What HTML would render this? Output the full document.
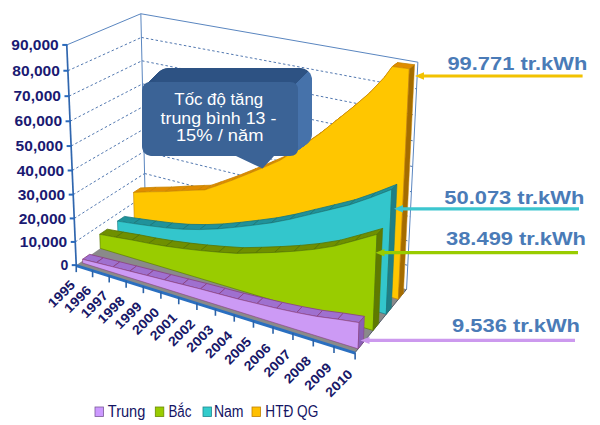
<!DOCTYPE html>
<html><head><meta charset="utf-8"><style>
html,body{margin:0;padding:0;background:#fff;}
body{width:600px;height:425px;overflow:hidden;}
svg{display:block;}
</style></head><body>
<svg width="600" height="425" viewBox="0 0 600 425">
<rect width="600" height="425" fill="#ffffff"/>
<line x1="75.25" y1="241.93" x2="145.08" y2="195.24" stroke="#5278b0" stroke-width="1" stroke-dasharray="2.5,2.3"/>
<line x1="145.08" y1="195.24" x2="407.75" y2="265.36" stroke="#5278b0" stroke-width="1" stroke-dasharray="2.5,2.3"/>
<line x1="74.24" y1="218.43" x2="144.57" y2="173.50" stroke="#5278b0" stroke-width="1" stroke-dasharray="2.5,2.3"/>
<line x1="144.57" y1="173.50" x2="408.96" y2="241.16" stroke="#5278b0" stroke-width="1" stroke-dasharray="2.5,2.3"/>
<line x1="73.22" y1="194.63" x2="144.06" y2="151.50" stroke="#5278b0" stroke-width="1" stroke-dasharray="2.5,2.3"/>
<line x1="144.06" y1="151.50" x2="410.18" y2="216.64" stroke="#5278b0" stroke-width="1" stroke-dasharray="2.5,2.3"/>
<line x1="72.18" y1="170.50" x2="143.54" y2="129.24" stroke="#5278b0" stroke-width="1" stroke-dasharray="2.5,2.3"/>
<line x1="143.54" y1="129.24" x2="411.42" y2="191.78" stroke="#5278b0" stroke-width="1" stroke-dasharray="2.5,2.3"/>
<line x1="71.13" y1="146.06" x2="143.01" y2="106.71" stroke="#5278b0" stroke-width="1" stroke-dasharray="2.5,2.3"/>
<line x1="143.01" y1="106.71" x2="412.67" y2="166.58" stroke="#5278b0" stroke-width="1" stroke-dasharray="2.5,2.3"/>
<line x1="70.06" y1="121.28" x2="142.48" y2="83.89" stroke="#5278b0" stroke-width="1" stroke-dasharray="2.5,2.3"/>
<line x1="142.48" y1="83.89" x2="413.94" y2="141.03" stroke="#5278b0" stroke-width="1" stroke-dasharray="2.5,2.3"/>
<line x1="68.98" y1="96.18" x2="141.94" y2="60.80" stroke="#5278b0" stroke-width="1" stroke-dasharray="2.5,2.3"/>
<line x1="141.94" y1="60.80" x2="415.23" y2="115.11" stroke="#5278b0" stroke-width="1" stroke-dasharray="2.5,2.3"/>
<line x1="67.88" y1="70.73" x2="141.40" y2="37.43" stroke="#5278b0" stroke-width="1" stroke-dasharray="2.5,2.3"/>
<line x1="141.40" y1="37.43" x2="416.54" y2="88.84" stroke="#5278b0" stroke-width="1" stroke-dasharray="2.5,2.3"/>
<line x1="66.77" y1="44.93" x2="140.84" y2="13.76" stroke="#5a86c0" stroke-width="1"/>
<line x1="140.84" y1="13.76" x2="417.87" y2="62.18" stroke="#5a86c0" stroke-width="1"/>
<line x1="145.58" y1="216.72" x2="140.84" y2="13.76" stroke="#5a86c0" stroke-width="1"/>
<line x1="406.57" y1="289.23" x2="417.87" y2="62.18" stroke="#5a86c0" stroke-width="1"/>
<polygon points="76.25,265.13 355.12,352.57 406.57,289.23 145.58,216.72" fill="#8a8a8a"/>
<line x1="355.12" y1="352.57" x2="406.57" y2="289.23" stroke="#505a68" stroke-width="1"/>
<polygon points="133.53,192.46 149.18,191.83 156.03,187.25 140.46,187.92" fill="#e08c00" stroke="#c88400" stroke-width="0.8"/>
<polygon points="149.18,191.83 165.14,191.61 171.90,187.00 156.03,187.25" fill="#e08c00" stroke="#c88400" stroke-width="0.8"/>
<polygon points="165.14,191.61 181.39,190.73 188.06,186.08 171.90,187.00" fill="#e08c00" stroke="#c88400" stroke-width="0.8"/>
<polygon points="181.39,190.73 197.96,190.11 204.54,185.43 188.06,186.08" fill="#e08c00" stroke="#c88400" stroke-width="0.8"/>
<polygon points="197.96,190.11 204.68,189.96 211.21,185.26 204.54,185.43" fill="#e08c00" stroke="#c88400" stroke-width="0.8"/>
<polygon points="204.68,189.96 214.84,186.47 221.32,181.77 211.21,185.26" fill="#e08c00" stroke="#c88400" stroke-width="0.8"/>
<polygon points="214.84,186.47 232.08,180.30 238.47,175.60 221.32,181.77" fill="#e08c00" stroke="#c88400" stroke-width="0.8"/>
<polygon points="232.08,180.30 249.73,173.24 256.01,168.56 238.47,175.60" fill="#e08c00" stroke="#c88400" stroke-width="0.8"/>
<polygon points="249.73,173.24 267.79,165.75 273.97,161.09 256.01,168.56" fill="#e08c00" stroke="#c88400" stroke-width="0.8"/>
<polygon points="267.79,165.75 279.59,160.56 285.70,155.92 273.97,161.09" fill="#e08c00" stroke="#c88400" stroke-width="0.8"/>
<polygon points="279.59,160.56 295.78,150.56 301.80,145.97 285.70,155.92" fill="#e08c00" stroke="#c88400" stroke-width="0.8"/>
<polygon points="295.78,150.56 319.45,134.11 325.31,129.61 301.80,145.97" fill="#e08c00" stroke="#c88400" stroke-width="0.8"/>
<polygon points="319.45,134.11 335.05,121.47 340.82,117.06 325.31,129.61" fill="#e08c00" stroke="#c88400" stroke-width="0.8"/>
<polygon points="335.05,121.47 353.29,106.88 358.94,102.57 340.82,117.06" fill="#e08c00" stroke="#c88400" stroke-width="0.8"/>
<polygon points="353.29,106.88 369.28,93.22 374.82,89.00 358.94,102.57" fill="#e08c00" stroke="#c88400" stroke-width="0.8"/>
<polygon points="369.28,93.22 384.25,77.43 389.69,73.33 374.82,89.00" fill="#e08c00" stroke="#c88400" stroke-width="0.8"/>
<polygon points="384.25,77.43 392.30,66.59 397.69,62.58 389.69,73.33" fill="#e08c00" stroke="#c88400" stroke-width="0.8"/>
<polygon points="392.30,66.59 409.32,68.80 414.56,64.74 397.69,62.58" fill="#e08c00" stroke="#c88400" stroke-width="0.8"/>
<polygon points="133.53,192.46 149.18,191.83 165.14,191.61 181.39,190.73 197.96,190.11 204.68,189.96 214.84,186.47 232.08,180.30 249.73,173.24 267.79,165.75 279.59,160.56 295.78,150.56 319.45,134.11 335.05,121.47 353.29,106.88 369.28,93.22 384.25,77.43 392.30,66.59 409.32,68.80 398.35,299.35 134.38,224.54" fill="#ffc600" stroke="#c88400" stroke-width="0.6"/>
<polygon points="398.35,299.35 409.32,68.80 414.56,64.74 403.39,293.14" fill="#a46c00" stroke="#c88400" stroke-width="0.5"/>
<polygon points="117.50,221.11 133.34,223.55 140.19,218.78 124.43,216.41" fill="#20929a" stroke="#16767e" stroke-width="0.8"/>
<polygon points="133.34,223.55 149.46,225.80 156.22,220.97 140.19,218.78" fill="#20929a" stroke="#16767e" stroke-width="0.8"/>
<polygon points="149.46,225.80 165.87,227.86 172.53,222.98 156.22,220.97" fill="#20929a" stroke="#16767e" stroke-width="0.8"/>
<polygon points="165.87,227.86 182.56,229.28 189.13,224.33 172.53,222.98" fill="#20929a" stroke="#16767e" stroke-width="0.8"/>
<polygon points="182.56,229.28 199.56,229.58 206.04,224.58 189.13,224.33" fill="#20929a" stroke="#16767e" stroke-width="0.8"/>
<polygon points="199.56,229.58 216.90,228.95 223.27,223.91 206.04,224.58" fill="#20929a" stroke="#16767e" stroke-width="0.8"/>
<polygon points="216.90,228.95 234.59,227.37 240.86,222.29 223.27,223.91" fill="#20929a" stroke="#16767e" stroke-width="0.8"/>
<polygon points="234.59,227.37 252.66,225.29 258.82,220.18 240.86,222.29" fill="#20929a" stroke="#16767e" stroke-width="0.8"/>
<polygon points="252.66,225.29 271.12,222.90 277.16,217.76 258.82,220.18" fill="#20929a" stroke="#16767e" stroke-width="0.8"/>
<polygon points="271.12,222.90 290.01,219.28 295.93,214.12 277.16,217.76" fill="#20929a" stroke="#16767e" stroke-width="0.8"/>
<polygon points="290.01,219.28 309.36,214.61 315.16,209.43 295.93,214.12" fill="#20929a" stroke="#16767e" stroke-width="0.8"/>
<polygon points="309.36,214.61 329.17,209.90 334.83,204.71 315.16,209.43" fill="#20929a" stroke="#16767e" stroke-width="0.8"/>
<polygon points="329.17,209.90 349.45,204.93 354.97,199.73 334.83,204.71" fill="#20929a" stroke="#16767e" stroke-width="0.8"/>
<polygon points="349.45,204.93 370.32,197.79 375.69,192.59 354.97,199.73" fill="#20929a" stroke="#16767e" stroke-width="0.8"/>
<polygon points="370.32,197.79 391.77,189.43 396.98,184.26 375.69,192.59" fill="#20929a" stroke="#16767e" stroke-width="0.8"/>
<polygon points="117.50,221.11 133.34,223.55 149.46,225.80 165.87,227.86 182.56,229.28 199.56,229.58 216.90,228.95 234.59,227.37 252.66,225.29 271.12,222.90 290.01,219.28 309.36,214.61 329.17,209.90 349.45,204.93 370.32,197.79 391.77,189.43 386.23,314.27 117.96,236.00" fill="#33c6cc" stroke="#16767e" stroke-width="0.6"/>
<polygon points="386.23,314.27 391.77,189.43 396.98,184.26 391.33,307.99" fill="#1f7f86" stroke="#16767e" stroke-width="0.5"/>
<polygon points="99.73,234.30 115.79,237.26 123.23,232.06 107.26,229.18" fill="#6f8f00" stroke="#587400" stroke-width="0.8"/>
<polygon points="115.79,237.26 132.13,240.05 139.48,234.79 123.23,232.06" fill="#6f8f00" stroke="#587400" stroke-width="0.8"/>
<polygon points="132.13,240.05 148.78,243.37 156.03,238.02 139.48,234.79" fill="#6f8f00" stroke="#587400" stroke-width="0.8"/>
<polygon points="148.78,243.37 165.73,246.20 172.87,240.78 156.03,238.02" fill="#6f8f00" stroke="#587400" stroke-width="0.8"/>
<polygon points="165.73,246.20 182.98,248.60 190.02,243.10 172.87,240.78" fill="#6f8f00" stroke="#587400" stroke-width="0.8"/>
<polygon points="182.98,248.60 200.56,250.58 207.49,245.01 190.02,243.10" fill="#6f8f00" stroke="#587400" stroke-width="0.8"/>
<polygon points="200.56,250.58 218.48,252.15 225.29,246.51 207.49,245.01" fill="#6f8f00" stroke="#587400" stroke-width="0.8"/>
<polygon points="218.48,252.15 236.75,253.39 243.45,247.68 225.29,246.51" fill="#6f8f00" stroke="#587400" stroke-width="0.8"/>
<polygon points="236.75,253.39 255.42,253.03 261.99,247.26 243.45,247.68" fill="#6f8f00" stroke="#587400" stroke-width="0.8"/>
<polygon points="255.42,253.03 274.49,252.41 280.93,246.59 261.99,247.26" fill="#6f8f00" stroke="#587400" stroke-width="0.8"/>
<polygon points="274.49,252.41 293.98,251.29 300.28,245.41 280.93,246.59" fill="#6f8f00" stroke="#587400" stroke-width="0.8"/>
<polygon points="293.98,251.29 313.93,249.37 320.09,243.45 300.28,245.41" fill="#6f8f00" stroke="#587400" stroke-width="0.8"/>
<polygon points="313.93,249.37 334.38,246.12 340.39,240.17 320.09,243.45" fill="#6f8f00" stroke="#587400" stroke-width="0.8"/>
<polygon points="334.38,246.12 355.41,240.45 361.26,234.49 340.39,240.17" fill="#6f8f00" stroke="#587400" stroke-width="0.8"/>
<polygon points="355.41,240.45 376.99,234.37 382.67,228.40 361.26,234.49" fill="#6f8f00" stroke="#587400" stroke-width="0.8"/>
<polygon points="99.73,234.30 115.79,237.26 132.13,240.05 148.78,243.37 165.73,246.20 182.98,248.60 200.56,250.58 218.48,252.15 236.75,253.39 255.42,253.03 274.49,252.41 293.98,251.29 313.93,249.37 334.38,246.12 355.41,240.45 376.99,234.37 373.07,330.47 100.24,248.38" fill="#99cc00" stroke="#587400" stroke-width="0.6"/>
<polygon points="373.07,330.47 376.99,234.37 382.67,228.40 378.65,323.60" fill="#5f7a00" stroke="#587400" stroke-width="0.5"/>
<polygon points="82.52,259.29 96.37,262.66 103.37,257.68 89.59,254.37" fill="#9f70cf" stroke="#8a3f7f" stroke-width="0.8"/>
<polygon points="96.37,262.66 112.94,266.86 119.85,261.79 103.37,257.68" fill="#9f70cf" stroke="#8a3f7f" stroke-width="0.8"/>
<polygon points="112.94,266.86 129.81,271.13 136.63,265.98 119.85,261.79" fill="#9f70cf" stroke="#8a3f7f" stroke-width="0.8"/>
<polygon points="129.81,271.13 146.99,275.48 153.71,270.24 136.63,265.98" fill="#9f70cf" stroke="#8a3f7f" stroke-width="0.8"/>
<polygon points="146.99,275.48 164.48,279.91 171.10,274.58 153.71,270.24" fill="#9f70cf" stroke="#8a3f7f" stroke-width="0.8"/>
<polygon points="164.48,279.91 182.29,284.42 188.81,279.00 171.10,274.58" fill="#9f70cf" stroke="#8a3f7f" stroke-width="0.8"/>
<polygon points="182.29,284.42 200.44,289.01 206.85,283.50 188.81,279.00" fill="#9f70cf" stroke="#8a3f7f" stroke-width="0.8"/>
<polygon points="200.44,289.01 218.93,293.94 225.23,288.33 206.85,283.50" fill="#9f70cf" stroke="#8a3f7f" stroke-width="0.8"/>
<polygon points="218.93,293.94 237.78,298.96 243.95,293.25 225.23,288.33" fill="#9f70cf" stroke="#8a3f7f" stroke-width="0.8"/>
<polygon points="237.78,298.96 256.98,303.58 263.03,297.77 243.95,293.25" fill="#9f70cf" stroke="#8a3f7f" stroke-width="0.8"/>
<polygon points="256.98,303.58 276.57,308.29 282.48,302.37 263.03,297.77" fill="#9f70cf" stroke="#8a3f7f" stroke-width="0.8"/>
<polygon points="276.57,308.29 296.55,312.58 302.32,306.57 282.48,302.37" fill="#9f70cf" stroke="#8a3f7f" stroke-width="0.8"/>
<polygon points="296.55,312.58 316.94,316.45 322.58,310.34 302.32,306.57" fill="#9f70cf" stroke="#8a3f7f" stroke-width="0.8"/>
<polygon points="316.94,316.45 337.80,319.24 343.29,313.04 322.58,310.34" fill="#9f70cf" stroke="#8a3f7f" stroke-width="0.8"/>
<polygon points="337.80,319.24 359.09,322.62 364.42,316.31 343.29,313.04" fill="#9f70cf" stroke="#8a3f7f" stroke-width="0.8"/>
<polygon points="82.52,259.29 96.37,262.66 112.94,266.86 129.81,271.13 146.99,275.48 164.48,279.91 182.29,284.42 200.44,289.01 218.93,293.94 237.78,298.96 256.98,303.58 276.57,308.29 296.55,312.58 316.94,316.45 337.80,319.24 359.09,322.62 358.13,348.87 82.68,263.09" fill="#cc9af5" stroke="#8a3f7f" stroke-width="0.6"/>
<polygon points="358.13,348.87 359.09,322.62 364.42,316.31 363.42,342.35" fill="#8a5fb5" stroke="#8a3f7f" stroke-width="0.5"/>
<line x1="76.25" y1="265.13" x2="66.77" y2="44.93" stroke="#3066ae" stroke-width="1.7"/>
<line x1="71.75" y1="265.13" x2="76.75" y2="265.13" stroke="#2a6abc" stroke-width="2"/>
<text x="68.25" y="270.33" text-anchor="end" font-family="Liberation Sans" font-weight="bold" font-size="14.5" fill="#1a1a72" textLength="7.8" lengthAdjust="spacingAndGlyphs">0</text>
<line x1="70.75" y1="241.93" x2="75.75" y2="241.93" stroke="#2a6abc" stroke-width="2"/>
<text x="67.25" y="247.13" text-anchor="end" font-family="Liberation Sans" font-weight="bold" font-size="14.5" fill="#1a1a72" textLength="47.5" lengthAdjust="spacingAndGlyphs">10,000</text>
<line x1="69.74" y1="218.43" x2="74.74" y2="218.43" stroke="#2a6abc" stroke-width="2"/>
<text x="66.24" y="223.63" text-anchor="end" font-family="Liberation Sans" font-weight="bold" font-size="14.5" fill="#1a1a72" textLength="47.5" lengthAdjust="spacingAndGlyphs">20,000</text>
<line x1="68.72" y1="194.63" x2="73.72" y2="194.63" stroke="#2a6abc" stroke-width="2"/>
<text x="65.22" y="199.83" text-anchor="end" font-family="Liberation Sans" font-weight="bold" font-size="14.5" fill="#1a1a72" textLength="47.5" lengthAdjust="spacingAndGlyphs">30,000</text>
<line x1="67.68" y1="170.50" x2="72.68" y2="170.50" stroke="#2a6abc" stroke-width="2"/>
<text x="64.18" y="175.70" text-anchor="end" font-family="Liberation Sans" font-weight="bold" font-size="14.5" fill="#1a1a72" textLength="47.5" lengthAdjust="spacingAndGlyphs">40,000</text>
<line x1="66.63" y1="146.06" x2="71.63" y2="146.06" stroke="#2a6abc" stroke-width="2"/>
<text x="63.13" y="151.26" text-anchor="end" font-family="Liberation Sans" font-weight="bold" font-size="14.5" fill="#1a1a72" textLength="47.5" lengthAdjust="spacingAndGlyphs">50,000</text>
<line x1="65.56" y1="121.28" x2="70.56" y2="121.28" stroke="#2a6abc" stroke-width="2"/>
<text x="62.06" y="126.48" text-anchor="end" font-family="Liberation Sans" font-weight="bold" font-size="14.5" fill="#1a1a72" textLength="47.5" lengthAdjust="spacingAndGlyphs">60,000</text>
<line x1="64.48" y1="96.18" x2="69.48" y2="96.18" stroke="#2a6abc" stroke-width="2"/>
<text x="60.98" y="101.38" text-anchor="end" font-family="Liberation Sans" font-weight="bold" font-size="14.5" fill="#1a1a72" textLength="47.5" lengthAdjust="spacingAndGlyphs">70,000</text>
<line x1="63.38" y1="70.73" x2="68.38" y2="70.73" stroke="#2a6abc" stroke-width="2"/>
<text x="59.88" y="75.93" text-anchor="end" font-family="Liberation Sans" font-weight="bold" font-size="14.5" fill="#1a1a72" textLength="47.5" lengthAdjust="spacingAndGlyphs">80,000</text>
<line x1="62.27" y1="44.93" x2="67.27" y2="44.93" stroke="#2a6abc" stroke-width="2"/>
<text x="58.77" y="50.13" text-anchor="end" font-family="Liberation Sans" font-weight="bold" font-size="14.5" fill="#1a1a72" textLength="47.5" lengthAdjust="spacingAndGlyphs">90,000</text>
<line x1="76.25" y1="265.63" x2="355.12" y2="353.07" stroke="#2a6fc0" stroke-width="3"/>
<line x1="76.25" y1="265.13" x2="76.25" y2="272.13" stroke="#2a62a8" stroke-width="1.6"/>
<text x="61.45" y="298.53" text-anchor="middle" font-family="Liberation Sans" font-weight="bold" font-size="13.2" fill="#181868" textLength="32" lengthAdjust="spacingAndGlyphs" transform="rotate(-45 61.45 293.93)">1995</text>
<line x1="92.60" y1="270.25" x2="92.60" y2="277.25" stroke="#2a62a8" stroke-width="1.6"/>
<text x="77.70" y="303.76" text-anchor="middle" font-family="Liberation Sans" font-weight="bold" font-size="13.2" fill="#181868" textLength="32" lengthAdjust="spacingAndGlyphs" transform="rotate(-45 77.70 299.16)">1996</text>
<line x1="109.23" y1="275.46" x2="109.23" y2="282.46" stroke="#2a62a8" stroke-width="1.6"/>
<text x="94.24" y="309.09" text-anchor="middle" font-family="Liberation Sans" font-weight="bold" font-size="13.2" fill="#181868" textLength="32" lengthAdjust="spacingAndGlyphs" transform="rotate(-45 94.24 304.49)">1997</text>
<line x1="126.15" y1="280.77" x2="126.15" y2="287.77" stroke="#2a62a8" stroke-width="1.6"/>
<text x="111.07" y="314.51" text-anchor="middle" font-family="Liberation Sans" font-weight="bold" font-size="13.2" fill="#181868" textLength="32" lengthAdjust="spacingAndGlyphs" transform="rotate(-45 111.07 309.91)">1998</text>
<line x1="143.37" y1="286.17" x2="143.37" y2="293.17" stroke="#2a62a8" stroke-width="1.6"/>
<text x="128.19" y="320.02" text-anchor="middle" font-family="Liberation Sans" font-weight="bold" font-size="13.2" fill="#181868" textLength="32" lengthAdjust="spacingAndGlyphs" transform="rotate(-45 128.19 315.42)">1999</text>
<line x1="160.90" y1="291.67" x2="160.90" y2="298.67" stroke="#2a62a8" stroke-width="1.6"/>
<text x="145.63" y="325.63" text-anchor="middle" font-family="Liberation Sans" font-weight="bold" font-size="13.2" fill="#181868" textLength="32" lengthAdjust="spacingAndGlyphs" transform="rotate(-45 145.63 321.03)">2000</text>
<line x1="178.74" y1="297.26" x2="178.74" y2="304.26" stroke="#2a62a8" stroke-width="1.6"/>
<text x="163.38" y="331.34" text-anchor="middle" font-family="Liberation Sans" font-weight="bold" font-size="13.2" fill="#181868" textLength="32" lengthAdjust="spacingAndGlyphs" transform="rotate(-45 163.38 326.74)">2001</text>
<line x1="196.91" y1="302.96" x2="196.91" y2="309.96" stroke="#2a62a8" stroke-width="1.6"/>
<text x="181.46" y="337.15" text-anchor="middle" font-family="Liberation Sans" font-weight="bold" font-size="13.2" fill="#181868" textLength="32" lengthAdjust="spacingAndGlyphs" transform="rotate(-45 181.46 332.55)">2002</text>
<line x1="215.42" y1="308.76" x2="215.42" y2="315.76" stroke="#2a62a8" stroke-width="1.6"/>
<text x="199.87" y="343.07" text-anchor="middle" font-family="Liberation Sans" font-weight="bold" font-size="13.2" fill="#181868" textLength="32" lengthAdjust="spacingAndGlyphs" transform="rotate(-45 199.87 338.47)">2003</text>
<line x1="234.26" y1="314.67" x2="234.26" y2="321.67" stroke="#2a62a8" stroke-width="1.6"/>
<text x="218.62" y="349.09" text-anchor="middle" font-family="Liberation Sans" font-weight="bold" font-size="13.2" fill="#181868" textLength="32" lengthAdjust="spacingAndGlyphs" transform="rotate(-45 218.62 344.49)">2004</text>
<line x1="253.47" y1="320.69" x2="253.47" y2="327.69" stroke="#2a62a8" stroke-width="1.6"/>
<text x="237.73" y="355.23" text-anchor="middle" font-family="Liberation Sans" font-weight="bold" font-size="13.2" fill="#181868" textLength="32" lengthAdjust="spacingAndGlyphs" transform="rotate(-45 237.73 350.63)">2005</text>
<line x1="273.03" y1="326.83" x2="273.03" y2="333.83" stroke="#2a62a8" stroke-width="1.6"/>
<text x="257.20" y="361.47" text-anchor="middle" font-family="Liberation Sans" font-weight="bold" font-size="13.2" fill="#181868" textLength="32" lengthAdjust="spacingAndGlyphs" transform="rotate(-45 257.20 356.87)">2006</text>
<line x1="292.96" y1="333.08" x2="292.96" y2="340.08" stroke="#2a62a8" stroke-width="1.6"/>
<text x="277.04" y="367.84" text-anchor="middle" font-family="Liberation Sans" font-weight="bold" font-size="13.2" fill="#181868" textLength="32" lengthAdjust="spacingAndGlyphs" transform="rotate(-45 277.04 363.24)">2007</text>
<line x1="313.29" y1="339.45" x2="313.29" y2="346.45" stroke="#2a62a8" stroke-width="1.6"/>
<text x="297.27" y="374.32" text-anchor="middle" font-family="Liberation Sans" font-weight="bold" font-size="13.2" fill="#181868" textLength="32" lengthAdjust="spacingAndGlyphs" transform="rotate(-45 297.27 369.72)">2008</text>
<line x1="334.00" y1="345.94" x2="334.00" y2="352.94" stroke="#2a62a8" stroke-width="1.6"/>
<text x="317.89" y="380.93" text-anchor="middle" font-family="Liberation Sans" font-weight="bold" font-size="13.2" fill="#181868" textLength="32" lengthAdjust="spacingAndGlyphs" transform="rotate(-45 317.89 376.33)">2009</text>
<line x1="355.12" y1="352.57" x2="355.12" y2="359.57" stroke="#2a62a8" stroke-width="1.6"/>
<text x="338.92" y="387.67" text-anchor="middle" font-family="Liberation Sans" font-weight="bold" font-size="13.2" fill="#181868" textLength="32" lengthAdjust="spacingAndGlyphs" transform="rotate(-45 338.92 383.07)">2010</text>
<!-- callout -->
<defs><clipPath id="cTop"><polygon points="100,0 380,0 100,280"/></clipPath>
<clipPath id="cRight"><polygon points="380,0 400,0 400,300 80,300"/></clipPath></defs>
<g fill="#2d5283" clip-path="url(#cTop)"><rect x="142.00" y="82.00" width="156" height="74.00" rx="12" ry="12"/><rect x="142.50" y="81.50" width="156" height="74.14" rx="12" ry="12"/><rect x="143.00" y="81.00" width="156" height="74.29" rx="12" ry="12"/><rect x="143.50" y="80.50" width="156" height="74.43" rx="12" ry="12"/><rect x="144.00" y="80.00" width="156" height="74.57" rx="12" ry="12"/><rect x="144.50" y="79.50" width="156" height="74.71" rx="12" ry="12"/><rect x="145.00" y="79.00" width="156" height="74.86" rx="12" ry="12"/><rect x="145.50" y="78.50" width="156" height="75.00" rx="12" ry="12"/><rect x="146.00" y="78.00" width="156" height="75.14" rx="12" ry="12"/><rect x="146.50" y="77.50" width="156" height="75.29" rx="12" ry="12"/><rect x="147.00" y="77.00" width="156" height="75.43" rx="12" ry="12"/><rect x="147.50" y="76.50" width="156" height="75.57" rx="12" ry="12"/><rect x="148.00" y="76.00" width="156" height="75.71" rx="12" ry="12"/><rect x="148.50" y="75.50" width="156" height="75.86" rx="12" ry="12"/><rect x="149.00" y="75.00" width="156" height="76.00" rx="12" ry="12"/><rect x="149.50" y="74.50" width="156" height="76.14" rx="12" ry="12"/><rect x="150.00" y="74.00" width="156" height="76.29" rx="12" ry="12"/><rect x="150.50" y="73.50" width="156" height="76.43" rx="12" ry="12"/><rect x="151.00" y="73.00" width="156" height="76.57" rx="12" ry="12"/><rect x="151.50" y="72.50" width="156" height="76.71" rx="12" ry="12"/><rect x="152.00" y="72.00" width="156" height="76.86" rx="12" ry="12"/><rect x="152.50" y="71.50" width="156" height="77.00" rx="12" ry="12"/><rect x="153.00" y="71.00" width="156" height="77.14" rx="12" ry="12"/><rect x="153.50" y="70.50" width="156" height="77.29" rx="12" ry="12"/><rect x="154.00" y="70.00" width="156" height="77.43" rx="12" ry="12"/><rect x="154.50" y="69.50" width="156" height="77.57" rx="12" ry="12"/><rect x="155.00" y="69.00" width="156" height="77.71" rx="12" ry="12"/><rect x="155.50" y="68.50" width="156" height="77.86" rx="12" ry="12"/><rect x="156.00" y="68.00" width="156" height="78.00" rx="12" ry="12"/></g><g fill="#4672aa" clip-path="url(#cRight)"><rect x="142.00" y="82.00" width="156" height="74.00" rx="12" ry="12"/><rect x="142.50" y="81.50" width="156" height="74.14" rx="12" ry="12"/><rect x="143.00" y="81.00" width="156" height="74.29" rx="12" ry="12"/><rect x="143.50" y="80.50" width="156" height="74.43" rx="12" ry="12"/><rect x="144.00" y="80.00" width="156" height="74.57" rx="12" ry="12"/><rect x="144.50" y="79.50" width="156" height="74.71" rx="12" ry="12"/><rect x="145.00" y="79.00" width="156" height="74.86" rx="12" ry="12"/><rect x="145.50" y="78.50" width="156" height="75.00" rx="12" ry="12"/><rect x="146.00" y="78.00" width="156" height="75.14" rx="12" ry="12"/><rect x="146.50" y="77.50" width="156" height="75.29" rx="12" ry="12"/><rect x="147.00" y="77.00" width="156" height="75.43" rx="12" ry="12"/><rect x="147.50" y="76.50" width="156" height="75.57" rx="12" ry="12"/><rect x="148.00" y="76.00" width="156" height="75.71" rx="12" ry="12"/><rect x="148.50" y="75.50" width="156" height="75.86" rx="12" ry="12"/><rect x="149.00" y="75.00" width="156" height="76.00" rx="12" ry="12"/><rect x="149.50" y="74.50" width="156" height="76.14" rx="12" ry="12"/><rect x="150.00" y="74.00" width="156" height="76.29" rx="12" ry="12"/><rect x="150.50" y="73.50" width="156" height="76.43" rx="12" ry="12"/><rect x="151.00" y="73.00" width="156" height="76.57" rx="12" ry="12"/><rect x="151.50" y="72.50" width="156" height="76.71" rx="12" ry="12"/><rect x="152.00" y="72.00" width="156" height="76.86" rx="12" ry="12"/><rect x="152.50" y="71.50" width="156" height="77.00" rx="12" ry="12"/><rect x="153.00" y="71.00" width="156" height="77.14" rx="12" ry="12"/><rect x="153.50" y="70.50" width="156" height="77.29" rx="12" ry="12"/><rect x="154.00" y="70.00" width="156" height="77.43" rx="12" ry="12"/><rect x="154.50" y="69.50" width="156" height="77.57" rx="12" ry="12"/><rect x="155.00" y="69.00" width="156" height="77.71" rx="12" ry="12"/><rect x="155.50" y="68.50" width="156" height="77.86" rx="12" ry="12"/><rect x="156.00" y="68.00" width="156" height="78.00" rx="12" ry="12"/></g>
<path d="M151,82 L290,82 Q298,82 298,90 L298,148 Q298,156 290,156 L274,156 L262.5,168.5 L236,156 L153,156 Q142,156 142,145 L142,91 Q142,82 151,82 Z" fill="#3b6396"/>
<text font-family="Liberation Sans" font-size="16" fill="#ffffff" text-anchor="middle">
<tspan x="221" y="104.8" textLength="88.8" lengthAdjust="spacingAndGlyphs">Tốc độ tăng</tspan>
<tspan x="220.7" y="123.6" textLength="115.7" lengthAdjust="spacingAndGlyphs">trung bình 13 -</tspan>
<tspan x="219.7" y="140.7" textLength="87.5" lengthAdjust="spacingAndGlyphs">15% / năm</tspan>
</text>
<!-- data labels -->
<g font-family="Liberation Sans" font-weight="bold" font-size="18" fill="#4a7bb7">
<text x="447.4" y="70.3" textLength="139.9" lengthAdjust="spacingAndGlyphs">99.771 tr.kWh</text>
<text x="444.3" y="203.8" textLength="140" lengthAdjust="spacingAndGlyphs">50.073 tr.kWh</text>
<text x="446" y="244.8" textLength="140" lengthAdjust="spacingAndGlyphs">38.499 tr.kWh</text>
<text x="452" y="332" textLength="128" lengthAdjust="spacingAndGlyphs">9.536 tr.kWh</text>
</g>
<g>
<line x1="422" y1="76" x2="582.6" y2="76" stroke="#f2c200" stroke-width="3.2"/>
<polygon points="415,76 424,72.3 424,79.7" fill="#f2c200"/>
<line x1="401" y1="208.8" x2="579" y2="208.8" stroke="#3cc6cf" stroke-width="3.2"/>
<polygon points="394,208.8 403,205.1 403,212.5" fill="#3cc6cf"/>
<line x1="382" y1="252.7" x2="578" y2="252.7" stroke="#99cc00" stroke-width="3.2"/>
<polygon points="375.5,252.7 384.5,249 384.5,256.4" fill="#99cc00"/>
<line x1="367" y1="340.4" x2="575" y2="340.4" stroke="#cc99ee" stroke-width="3.2"/>
<polygon points="360.5,340.4 369.5,336.7 369.5,344.1" fill="#cc99ee"/>
</g>
<!-- legend -->
<g font-family="Liberation Sans" font-size="16" fill="#141464">
<rect x="95" y="407" width="8.5" height="9.5" fill="#cc99ff" stroke="#7a5a9a" stroke-width="0.8"/>
<text x="107.8" y="416.7" textLength="37.5" lengthAdjust="spacingAndGlyphs">Trung</text>
<rect x="155.3" y="407" width="8.5" height="9.5" fill="#99cc00" stroke="#6a8a00" stroke-width="0.8"/>
<text x="168.4" y="416.7" textLength="23" lengthAdjust="spacingAndGlyphs">Bắc</text>
<rect x="203" y="407" width="8.5" height="9.5" fill="#33cccc" stroke="#1f8890" stroke-width="0.8"/>
<text x="213.9" y="416.7" textLength="29.7" lengthAdjust="spacingAndGlyphs">Nam</text>
<rect x="252" y="407" width="8.5" height="9.5" fill="#ffc000" stroke="#c08000" stroke-width="0.8"/>
<text x="265.3" y="416.7" textLength="53" lengthAdjust="spacingAndGlyphs">HTĐ QG</text>
</g>
</svg>
</body></html>
